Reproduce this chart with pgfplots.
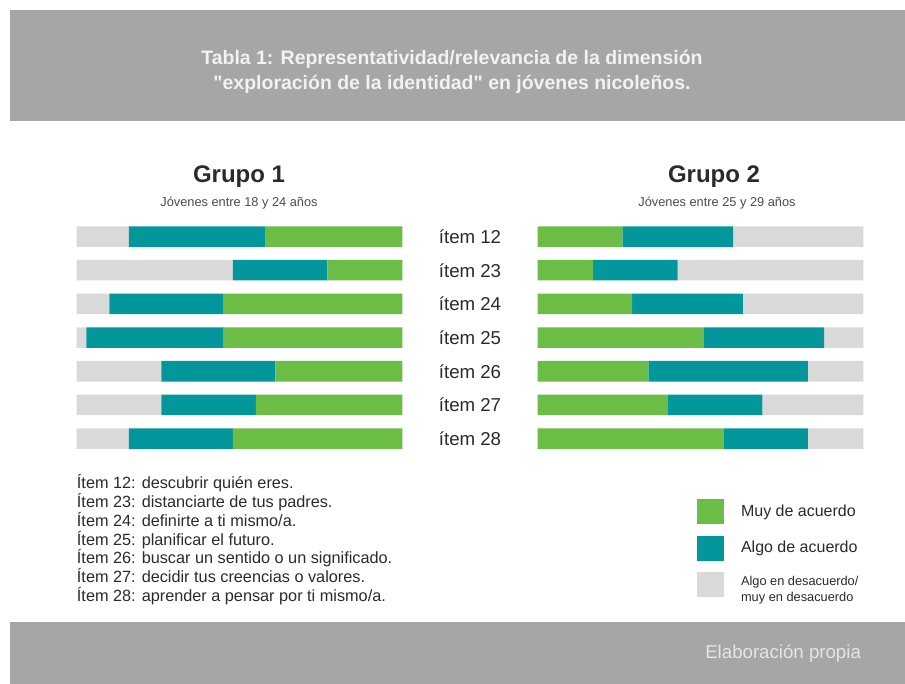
\documentclass[border=0pt]{standalone}
\usepackage{fontspec}
\setmainfont{Liberation Sans}
\newfontfamily\qfont{Liberation Sans}
\usepackage{pgfplots}
\usepackage{pgfplotstable}
\pgfplotsset{compat=1.18}
\definecolor{cgreen}{HTML}{6BBD45}
\definecolor{cteal}{HTML}{03969B}
\definecolor{cgray}{HTML}{D9D9D9}
\definecolor{cband}{HTML}{A6A6A6}
\definecolor{ctext}{HTML}{2B2B2B}

\pgfplotstableread{
row g t r
0 42 42 16
1 23 29 48
2 55 35 10
3 55 42 3
4 39 35 26
5 45 29 26
6 52 32 16
}\groupone
\pgfplotstableread{
row g t r
0 26 34 40
1 17 26 57
2 29 34 37
3 51 37 12
4 34 49 17
5 40 29 31
6 57 26 17
}\grouptwo

\pgfplotsset{grp/.style={xbar stacked, hide axis, scale only axis,
  width=244.2pt, height=176.8pt, xmin=0, xmax=100, ymin=-0.5, ymax=6.5,
  y dir=reverse, bar width=15.4pt, anchor=north west, clip=false}}

\begin{document}
\begin{tikzpicture}[x=0.75pt,y=-0.75pt]
\useasboundingbox (0,0) rectangle (905,684);
\fill[white] (0,0) rectangle (905,684);
\fill[cband] (10,10) rectangle (905,121);
\fill[cband] (10,622) rectangle (905,684);

\node[anchor=base, text=white!95!black, font=\bfseries\fontsize{14.6}{17}\selectfont] at (452,65) {Tabla 1: Representatividad/relevancia de la dimensión};
\node[anchor=base, text=white!95!black, font=\bfseries\fontsize{14.6}{17}\selectfont] at (452,90) {{\qfont\bfseries "}exploración de la identidad{\qfont\bfseries "} en jóvenes nicoleños.};

\node[anchor=base, text=ctext, font=\bfseries\fontsize{18}{21}\selectfont] at (239,183) {Grupo 1};
\node[anchor=base, text=ctext, font=\bfseries\fontsize{18}{21}\selectfont] at (714,183) {Grupo 2};
\node[anchor=base, text=black!70, font=\fontsize{9.6}{11}\selectfont] at (239,207) {Jóvenes entre 18 y 24 años};
\node[anchor=base, text=black!70, font=\fontsize{9.6}{11}\selectfont] at (717,207) {Jóvenes entre 25 y 29 años};

\foreach \lab [count=\i from 0] in {12,23,24,25,26,27,28}{
  \node[anchor=base, text=ctext, font=\fontsize{14}{16}\selectfont] at (470,243.5+33.67*\i) {ítem \lab};
}

\foreach \txt [count=\i from 0] in {{Ítem 12: descubrir quién eres.},{Ítem 23: distanciarte de tus padres.},{Ítem 24: definirte a ti mismo/a.},{Ítem 25: planificar el futuro.},{Ítem 26: buscar un sentido o un significado.},{Ítem 27: decidir tus creencias o valores.},{Ítem 28: aprender a pensar por ti mismo/a.}}{
  \node[anchor=base west, inner sep=0pt, text=ctext, font=\fontsize{12.2}{14}\selectfont] at (76.7,488.3+18.9*\i) {\txt};
}

\node[anchor=base west, inner sep=0pt, text=white!90!black, font=\fontsize{14}{16}\selectfont] at (705,658) {Elaboración propia};

\begin{axis}[grp, at={(57.525pt,-164.775pt)}, x dir=reverse]
\addplot[fill=cgreen, draw=none] table[x=g,y=row]{\groupone};
\addplot[fill=cteal, draw=none] table[x=t,y=row]{\groupone};
\addplot[fill=cgray, draw=none] table[x=r,y=row]{\groupone};
\end{axis}

\begin{axis}[grp, at={(403.275pt,-164.775pt)},
  legend style={at={(axis description cs:0.4883,-0.1863)}, anchor=north west,
    draw=none, fill=none, inner sep=0pt, outer sep=0pt, row sep=8.5pt, column sep=13pt,
    font=\fontsize{12}{14}\selectfont,
    nodes={inner sep=0pt, text=ctext}},
  legend cell align=left,
  legend image code/.code={\fill[#1] (0pt,-9.375pt) rectangle (20.25pt,9.375pt);}]
\addplot[fill=cgreen, draw=none] table[x=g,y=row]{\grouptwo};
\addlegendentry{Muy de acuerdo}
\addplot[fill=cteal, draw=none] table[x=t,y=row]{\grouptwo};
\addlegendentry{Algo de acuerdo}
\addplot[fill=cgray, draw=none] table[x=r,y=row]{\grouptwo};
\addlegendentry{\fontsize{9.6}{12}\selectfont\begin{tabular}{@{}l@{}}Algo en desacuerdo/\\muy en desacuerdo\end{tabular}}
\end{axis}
\end{tikzpicture}
\end{document}
